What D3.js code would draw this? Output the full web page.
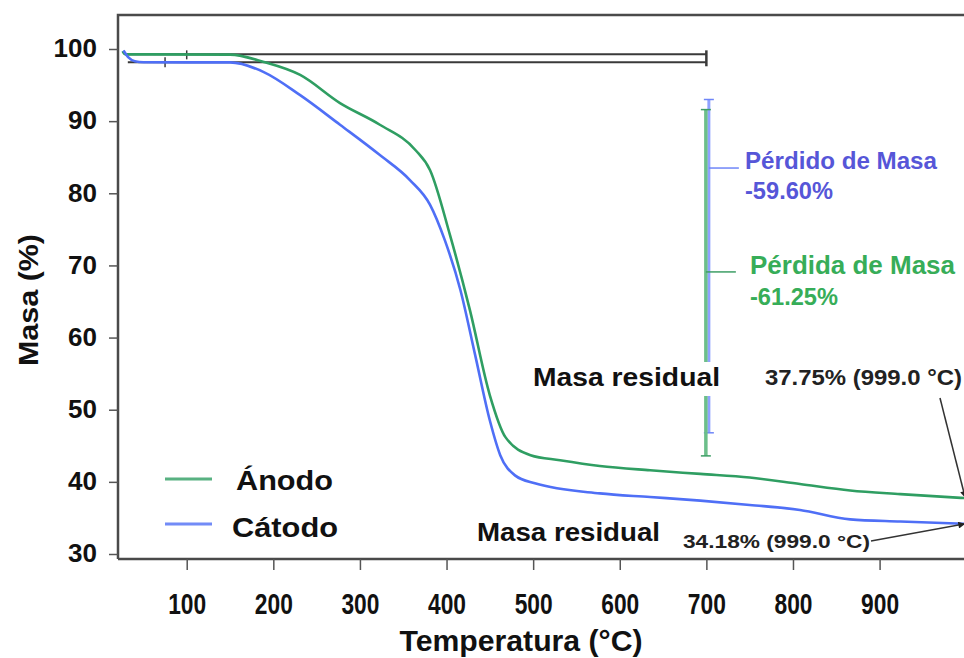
<!DOCTYPE html>
<html><head><meta charset="utf-8">
<script src="https://cdn.jsdelivr.net/npm/d3@7/dist/d3.min.js"></script>
<style>html,body{margin:0;padding:0;background:#fff;}svg{display:block;font-family:"Liberation Sans",Arial,sans-serif;}</style>
</head><body>
<svg id="c" width="964" height="658"></svg>
<script>
// ---- data ----
const anodoTemp = [26, 29, 60, 150, 189, 231, 277, 323, 364, 381, 404, 427, 450, 468, 497, 531, 577, 635, 693, 750, 808, 866, 924, 999];
const anodoMass = [99.7, 99.26, 99.26, 99.22, 98.2, 96.4, 92.5, 89.5, 86.0, 83.2, 74.2, 63.8, 52.0, 46.2, 43.7, 43.0, 42.2, 41.6, 41.1, 40.6, 39.7, 38.8, 38.3, 37.75];
const catodoTemp = [27, 33, 40, 50, 150, 189, 231, 277, 323, 358, 381, 398, 416, 433, 450, 462, 479, 502, 577, 635, 693, 750, 808, 866, 924, 999];
const catodoMass = [99.8, 98.8, 98.3, 98.16, 98.14, 96.8, 93.6, 89.5, 85.3, 81.8, 78.4, 73.5, 66.6, 57.6, 48.5, 43.7, 40.9, 39.8, 38.4, 37.9, 37.4, 36.8, 36.1, 34.8, 34.5, 34.18];
const xTicks = [100, 200, 300, 400, 500, 600, 700, 800, 900];
const yTicks = [30, 40, 50, 60, 70, 80, 90, 100];
const seriesNames = ["Ánodo", "Cátodo"];
const plateauLines = [99.26, 98.16];      // step baselines
const lossAnodo = [91.6, 43.6, 69.1];     // top, bottom, marker
const lossCatodo = [93.0, 46.8, 83.5];
const residualAnodo = 37.75, residualCatodo = 34.18, residualT = 999;

const GREEN = "#2f9e62", BLUE = "#4f6ff6";
const svg = d3.select("#c");
const x = d3.scaleLinear().domain([0, 1000]).range([100.1, 966.2]);
const y = d3.scaleLinear().domain([30, 100]).range([554, 49]);
const pLeft = 118, pTop = 15, pBottom = 559;

// frame
svg.append("path").attr("d", `M${pLeft},${pBottom}V${pTop}H990`).attr("fill","none").attr("stroke","#4a4a4a").attr("stroke-width",2.5);
svg.append("path").attr("d", `M${pLeft},${pBottom}H990`).attr("fill","none").attr("stroke","#4a4a4a").attr("stroke-width",2.5);

// axes
const ya = svg.append("g").attr("transform", `translate(${pLeft},0)`)
  .call(d3.axisLeft(y).tickValues(yTicks).tickSize(9).tickSizeOuter(0).tickPadding(12));
ya.select(".domain").remove();
ya.selectAll("line").attr("stroke","#555").attr("stroke-width",1.5);
ya.selectAll("text").attr("font-size",26).attr("font-weight","bold").attr("fill","#111").attr("dy","0.3em");

const xa = svg.append("g").attr("transform", `translate(0,${pBottom})`)
  .call(d3.axisBottom(x).tickValues(xTicks).tickSize(11).tickSizeOuter(0).tickPadding(23));
xa.select(".domain").remove();
xa.selectAll("line").attr("stroke","#555").attr("stroke-width",1.5);
xa.selectAll("text").attr("font-size",30).attr("font-weight","bold").attr("fill","#111")
  .attr("textLength",38).attr("lengthAdjust","spacingAndGlyphs");

// axis titles
svg.append("text").attr("transform","translate(38,300) rotate(-90)").attr("text-anchor","middle")
  .attr("font-size",27).attr("font-weight","bold").attr("fill","#111")
  .attr("textLength",132).attr("lengthAdjust","spacingAndGlyphs").text("Masa (%)");
svg.append("text").attr("x",521).attr("y",651).attr("text-anchor","middle")
  .attr("font-size",29).attr("font-weight","bold").attr("fill","#111")
  .attr("textLength",243).attr("lengthAdjust","spacingAndGlyphs").text("Temperatura (°C)");

// plateau reference lines
svg.selectAll(".pl").data(plateauLines).join("line")
  .attr("x1", x(32)).attr("x2", x(700)).attr("y1", d=>y(d)).attr("y2", d=>y(d))
  .attr("stroke","#3a3a3a").attr("stroke-width",2);
svg.append("line").attr("x1",x(700)).attr("x2",x(700)).attr("y1",y(plateauLines[0])-4).attr("y2",y(plateauLines[1])+4).attr("stroke","#3a3a3a").attr("stroke-width",2.5);
svg.append("line").attr("x1",x(100)).attr("x2",x(100)).attr("y1",y(plateauLines[0])-4).attr("y2",y(plateauLines[0])+5).attr("stroke","#3a3a3a").attr("stroke-width",1.5);
svg.append("line").attr("x1",x(75)).attr("x2",x(75)).attr("y1",y(plateauLines[1])-5).attr("y2",y(plateauLines[1])+5).attr("stroke","#3a3a3a").attr("stroke-width",1.5);

// loss bars
function lossBar(vals, xoff, col, w, capCol) {
  svg.append("line").attr("x1",x(700)+xoff).attr("x2",x(700)+xoff).attr("y1",y(vals[0])).attr("y2",y(vals[1]))
    .attr("stroke",col).attr("stroke-width",w);
  [vals[0], vals[1]].forEach(v => svg.append("line").attr("x1",x(700)+xoff-5).attr("x2",x(700)+xoff+5)
    .attr("y1",y(v)).attr("y2",y(v)).attr("stroke",capCol).attr("stroke-width",1.5));
  svg.append("line").attr("x1",x(700)+xoff).attr("x2",x(700)+xoff+30).attr("y1",y(vals[2])).attr("y2",y(vals[2]))
    .attr("stroke",capCol).attr("stroke-width",1.5);
}
lossBar(lossCatodo, 2.5, "#8fa2ff", 3, "#6f86f8");
lossBar(lossAnodo, -0.5, "#6cbf8a", 3.5, "#3e9e66");

// curves
const line = d3.line().x(d=>x(d[0])).y(d=>y(d[1])).curve(d3.curveMonotoneX);
svg.append("path").datum(anodoTemp.map((t,i)=>[t, anodoMass[i]])).attr("d", line)
  .attr("fill","none").attr("stroke",GREEN).attr("stroke-width",2.6);
svg.append("path").datum(catodoTemp.map((t,i)=>[t, catodoMass[i]])).attr("d", line)
  .attr("fill","none").attr("stroke",BLUE).attr("stroke-width",2.6);

// labels
function lbl(tx, ty, s, size, col, len, weight) {
  const t = svg.append("text").attr("x",tx).attr("y",ty).attr("dominant-baseline","central")
    .attr("font-size",size).attr("font-weight",weight||"bold").attr("fill",col).text(s);
  if (len) t.attr("textLength",len).attr("lengthAdjust","spacingAndGlyphs");
  return t;
}
lbl(745,160,"Pérdido de Masa",24,"#5656d8",192);
lbl(745,190,"-59.60%",24,"#5656d8",88);
lbl(750,265,"Pérdida de Masa",25,"#37ad58",205);
lbl(750,296,"-61.25%",24,"#37ad58",88);

// residual labels
svg.append("rect").attr("x",530).attr("y",362).attr("width",194).attr("height",34).attr("fill","#fff");
lbl(533,377,"Masa residual",26,"#111",187);
lbl(765,377,"37.75% (999.0 °C)",22,"#222",197,"600");
lbl(477,532,"Masa residual",26,"#111",183);
lbl(683,541,"34.18% (999.0 °C)",19,"#222",187,"600");

svg.append("defs").append("marker").attr("id","ah").attr("viewBox","0 0 10 10").attr("refX",10).attr("refY",5)
  .attr("markerWidth",9).attr("markerHeight",7).attr("markerUnits","userSpaceOnUse").attr("orient","auto")
  .append("path").attr("d","M0,0L10,5L0,10Z").attr("fill","#222");
svg.append("line").attr("x1",940).attr("y1",398).attr("x2",x(residualT)).attr("y2",y(residualAnodo))
  .attr("stroke","#333").attr("stroke-width",1.5).attr("marker-end","url(#ah)");
svg.append("line").attr("x1",871).attr("y1",541).attr("x2",x(residualT)).attr("y2",y(residualCatodo))
  .attr("stroke","#333").attr("stroke-width",1.5).attr("marker-end","url(#ah)");

// legend
const leg = [[GREEN, 479, 236, 480, 97], [BLUE, 524, 232, 527, 106]];
leg.forEach((l,i)=>{
  svg.append("line").attr("x1",165).attr("x2",212).attr("y1",l[1]).attr("y2",l[1]).attr("stroke",l[0]).attr("stroke-width",3).attr("opacity",0.8);
  lbl(l[2], l[3], seriesNames[i], 28, "#111", l[4]);
});
</script>
</body></html>
